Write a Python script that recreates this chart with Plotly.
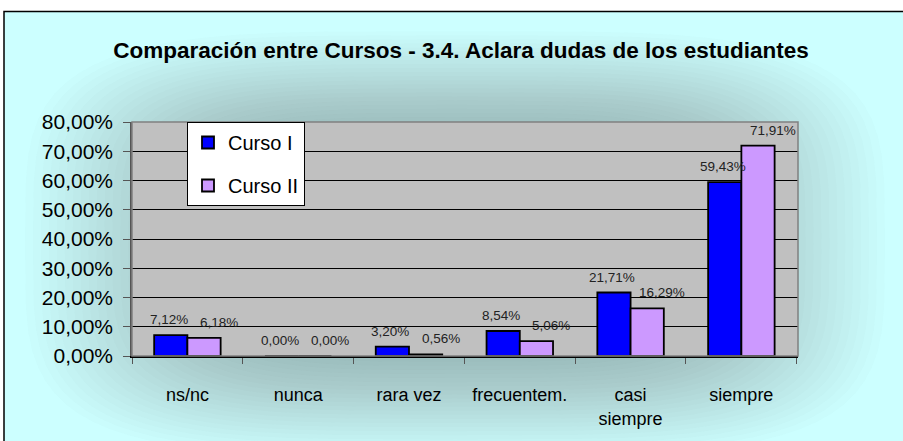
import math
import plotly.graph_objects as go

categories = ["ns/nc", "nunca", "rara vez", "frecuentem.", "casi<br>siempre", "siempre"]
curso_1 = [7.12, 0.00, 3.20, 8.54, 21.71, 59.43]
curso_2 = [6.18, 0.00, 0.56, 5.06, 16.29, 71.91]
series_names = ["Curso I", "Curso II"]
y_ticks = [0, 10, 20, 30, 40, 50, 60, 70, 80]

W, H = 903, 441
L, R, T, B = 132, 105, 122, 82
pw, ph = W - L - R, H - T - B
BARGAP = 0.4


def px_x(p):
    return (p - L) / pw


def px_y(p):
    return (H - B - p) / ph


def fmt(v):
    return f"{v:.2f}".replace(".", ",") + "%"


fig = go.Figure()
series = [
    (series_names[0], curso_1, "#0000FF", "a", -2),
    (series_names[1], curso_2, "#CC99FF", "b", 15),
]
for name, vals, color, grp, _ in series:
    fig.add_trace(go.Bar(
        x=categories, y=vals, name=name, legendgroup=grp,
        marker=dict(color=color, line=dict(color="black", width=1.8)),
    ))

# value labels placed above each bar through the axes
annotations = []
half = (1 - BARGAP) / 2
for si, (name, vals, color, grp, xs) in enumerate(series):
    off = -half / 2 if si == 0 else half / 2
    for ci, v in enumerate(vals):
        annotations.append(dict(
            x=ci + off, y=v, xref="x", yref="y", text=fmt(v), showarrow=False,
            yanchor="bottom", xanchor="center", yshift=6, xshift=xs,
            font=dict(family="Liberation Sans, Arial", size=13.5, color="#222222"),
        ))

shapes = []
# outer framed background
shapes.append(dict(type="rect", xref="paper", yref="paper",
                   x0=px_x(4), x1=px_x(920), y0=px_y(460), y1=px_y(10),
                   fillcolor="#CCFFFF", line=dict(color="black", width=1.5), layer="below"))


def superellipse(cx, cy, a, b, n=4, k=72):
    pts = []
    for j in range(k):
        t = 2 * math.pi * j / k
        c, s = math.cos(t), math.sin(t)
        x = cx + a * (abs(c) ** (2 / n)) * (1 if c >= 0 else -1)
        y = cy + b * (abs(s) ** (2 / n)) * (1 if s >= 0 else -1)
        pts.append(f"{px_x(x):.5f},{px_y(y):.5f}")
    return "M " + " L ".join(pts) + " Z"


# soft darker glow behind the plot (layered rounded shapes)
N = 30
for i in range(N):
    f = i / (N - 1)
    a = 430 - f * 230
    b = 215 - f * 120
    shapes.append(dict(type="path", xref="paper", yref="paper",
                       path=superellipse(455, 245, a, b),
                       fillcolor="#4F7575", opacity=0.02, line=dict(width=0), layer="below"))
# grey plot area on top of the glow
shapes.append(dict(type="rect", xref="paper", yref="paper", x0=0, x1=1, y0=0, y1=1,
                   fillcolor="#C0C0C0", line=dict(width=0), layer="below"))
# plot area border
shapes.append(dict(type="rect", xref="paper", yref="paper", x0=0, x1=1, y0=0, y1=1,
                   line=dict(color="#808080", width=1.5), layer="above"))

fig.update_layout(
    width=W, height=H,
    margin=dict(l=L, r=R, t=T, b=B),
    paper_bgcolor="white",
    plot_bgcolor="rgba(0,0,0,0)",
    barmode="group", bargap=BARGAP, bargroupgap=0,
    font=dict(family="Liberation Sans, Arial", color="black"),
    title=dict(text="<b>Comparación entre Cursos - 3.4. Aclara dudas de los estudiantes</b>",
               x=461 / W, xanchor="center", y=1 - 50 / H, yanchor="middle",
               font=dict(size=22.5, family="Liberation Sans, Arial", color="black")),
    legend=dict(x=px_x(187), xanchor="left", y=1, yanchor="top",
                bgcolor="white", bordercolor="black", borderwidth=1,
                font=dict(size=20), tracegroupgap=14, traceorder="grouped",
                itemwidth=30),
    shapes=shapes,
    annotations=annotations,
    showlegend=True,
)
fig.update_yaxes(range=[0, 80], tickvals=y_ticks, ticktext=[fmt(v) for v in y_ticks],
                 showgrid=True, gridcolor="black", gridwidth=1,
                 showline=True, linecolor="#555555", linewidth=1.5,
                 ticks="outside", ticklen=7, tickcolor="#555555",
                 tickfont=dict(size=21), zeroline=False, ticklabelstandoff=6)
fig.update_xaxes(tickson="boundaries", ticks="outside", ticklen=6, tickcolor="#555555",
                 showline=True, linecolor="black", linewidth=1.5,
                 tickfont=dict(size=18), ticklabelstandoff=22)

fig.write_html("out.html", config={"displayModeBar": False},
               post_script="document.body.style.margin='0';")
